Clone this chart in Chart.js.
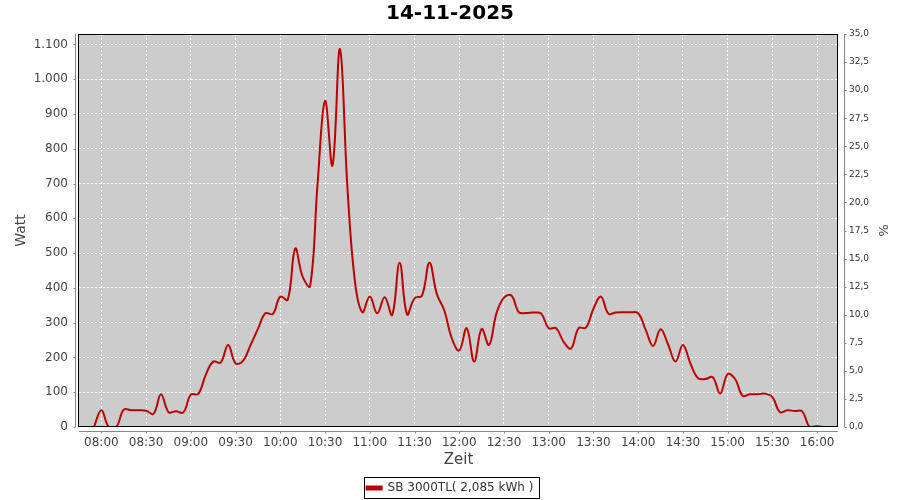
<!DOCTYPE html>
<html>
<head>
<meta charset="utf-8">
<script src="https://cdn.jsdelivr.net/npm/chart.js@4.4.1/dist/chart.umd.min.js"></script>
<style>
  html, body { margin: 0; padding: 0; background: #fff; }
</style>
</head>
<body>
<canvas id="pvChart" width="900" height="500"></canvas>
<script>
const chartTitle = '14-11-2025';
const seriesLabel = 'SB 3000TL( 2,085 kWh )';

// 5-Minuten-Werte (Watt)
const times = [
  '07:55', '08:00', '08:05', '08:10', '08:15', '08:20', '08:25', '08:30', '08:35', '08:40', '08:45', '08:50', '08:55',
  '09:00', '09:05', '09:10', '09:15', '09:20', '09:25', '09:30', '09:35', '09:40', '09:45', '09:50', '09:55',
  '10:00', '10:05', '10:10', '10:15', '10:20', '10:25', '10:30', '10:35', '10:40', '10:45', '10:50', '10:55',
  '11:00', '11:05', '11:10', '11:15', '11:20', '11:25', '11:30', '11:35', '11:40', '11:45', '11:50', '11:55',
  '12:00', '12:05', '12:10', '12:15', '12:20', '12:25', '12:30', '12:35', '12:40', '12:45', '12:50', '12:55',
  '13:00', '13:05', '13:10', '13:15', '13:20', '13:25', '13:30', '13:35', '13:40', '13:45', '13:50', '13:55',
  '14:00', '14:05', '14:10', '14:15', '14:20', '14:25', '14:30', '14:35', '14:40', '14:45', '14:50', '14:55',
  '15:00', '15:05', '15:10', '15:15', '15:20', '15:25', '15:30', '15:35', '15:40', '15:45', '15:50', '15:55',
  '16:00', '16:05'
];
const watts = [
  0, 48, 0, 0, 50, 48, 48, 47, 38, 94, 43, 45, 42,
  93, 95, 150, 188, 185, 236, 183, 190, 235, 282, 327, 325,
  375, 366, 513, 432, 405, 700, 938, 752, 1087, 690, 420, 330,
  375, 327, 373, 322, 472, 324, 370, 378, 472, 382, 335, 255,
  220, 284, 188, 282, 236, 328, 372, 378, 330, 328, 329, 326,
  284, 284, 245, 226, 284, 286, 340, 375, 326, 329, 330, 330,
  327, 280, 233, 281, 238, 188, 236, 183, 141, 138, 143, 96,
  152, 138, 90, 94, 94, 96, 86, 43, 48, 46, 45, 0,
  2, 0
];

const timeTicks = ['08:00', '08:30', '09:00', '09:30', '10:00', '10:30', '11:00', '11:30', '12:00',
  '12:30', '13:00', '13:30', '14:00', '14:30', '15:00', '15:30', '16:00'];
const wattTicks = [0, 100, 200, 300, 400, 500, 600, 700, 800, 900, 1000, 1100];
const percentTicks = [0, 2.5, 5, 7.5, 10, 12.5, 15, 17.5, 20, 22.5, 25, 27.5, 30, 32.5, 35];

function toMinutes(hhmm) {
  const [h, m] = hhmm.split(':').map(Number);
  return h * 60 + m;
}
function toHHMM(min) {
  const h = Math.floor(min / 60), m = Math.round(min % 60);
  return String(h).padStart(2, '0') + ':' + String(m).padStart(2, '0');
}
// deutsche Zahlenformate
function formatWatt(v) {
  return String(v).replace(/\B(?=(\d{3})+(?!\d))/g, '.');
}
function formatPercent(v) {
  return v.toFixed(1).replace('.', ',');
}

Chart.defaults.font.family = '"DejaVu Sans", sans-serif';
Chart.defaults.color = '#444';

// Hintergrund, Rahmen, Achsenlinien und Legendenrahmen
const framePlugin = {
  id: 'frame',
  afterLayout(chart) {
    // Legende etwas tiefer setzen
    chart.legend.top += 4;
    chart.legend.bottom += 4;
  },
  beforeDraw(chart) {
    const { ctx, chartArea: a } = chart;
    ctx.save();
    ctx.fillStyle = '#fff';
    ctx.fillRect(0, 0, chart.width, chart.height);
    ctx.fillStyle = '#cccccc';
    ctx.fillRect(a.left, a.top, a.right - a.left, a.bottom - a.top);
    ctx.restore();
  },
  afterDraw(chart) {
    const { ctx, chartArea: a, scales } = chart;
    ctx.save();
    ctx.lineWidth = 1;
    ctx.strokeStyle = '#000';
    ctx.strokeRect(a.left - 0.5, a.top + 0.5, a.right - a.left, a.bottom - a.top - 1);

    ctx.strokeStyle = '#888';
    ctx.beginPath();
    const lx = a.left - 3.5;
    ctx.moveTo(lx, a.top); ctx.lineTo(lx, a.bottom);
    scales.y.ticks.forEach(t => {
      const py = Math.round(scales.y.getPixelForValue(t.value)) + 0.5;
      ctx.moveTo(lx - 2, py); ctx.lineTo(lx, py);
    });
    const rx = a.right + 6.5;
    ctx.moveTo(rx, a.top); ctx.lineTo(rx, a.bottom);
    scales.y1.ticks.forEach(t => {
      const py = Math.round(scales.y1.getPixelForValue(t.value)) + 0.5;
      ctx.moveTo(rx, py); ctx.lineTo(rx + 2, py);
    });
    const by = a.bottom + 4.5;
    ctx.moveTo(a.left, by); ctx.lineTo(a.right, by);
    scales.x.ticks.forEach(t => {
      const px = Math.round(scales.x.getPixelForValue(t.value)) + 0.5;
      ctx.moveTo(px, by); ctx.lineTo(px, by + 2);
    });
    ctx.stroke();

    const box = chart.legend.legendHitBoxes[0];
    if (box) {
      ctx.strokeStyle = '#000';
      ctx.strokeRect(Math.round(box.left) - 2.5, Math.round(box.top) - 4.5,
        Math.round(box.width) + 8, Math.round(box.height) + 9);
    }
    ctx.restore();
  }
};

const chartElement = document.getElementById('pvChart');
const pvChart = new Chart(chartElement, {
  type: 'line',
  data: {
    datasets: [
      {
        label: seriesLabel,
        borderColor: '#bb0000',
        backgroundColor: '#bb0000',
        borderWidth: 2,
        pointRadius: 0,
        fill: false,
        tension: 0.4,
        data: times.map((t, i) => ({ x: toMinutes(t), y: watts[i] }))
      }
    ]
  },
  options: {
    responsive: false,
    animation: false,
    layout: { padding: 0 },
    scales: {
      x: {
        type: 'linear',
        min: 465,
        max: 974,
        afterBuildTicks: scale => {
          scale.ticks = timeTicks.map(t => ({ value: toMinutes(t) }));
        },
        afterFit: scale => { scale.height = 42; },
        ticks: {
          autoSkip: false,
          maxRotation: 0,
          padding: 9,
          color: '#444',
          font: { size: 12 },
          callback: v => toHHMM(v)
        },
        grid: { color: '#ffffff', lineWidth: 1, drawTicks: false },
        border: { display: false, dash: [2, 2] },
        title: {
          display: true,
          text: 'Zeit',
          color: '#444',
          font: { size: 15 },
          padding: { top: 0, bottom: 0 }
        }
      },
      y: {
        position: 'left',
        min: 0,
        max: 1130,
        afterBuildTicks: scale => {
          scale.ticks = wattTicks.map(v => ({ value: v }));
        },
        afterFit: scale => { scale.width = 79; },
        ticks: {
          padding: 11,
          color: '#444',
          font: { size: 12 },
          callback: v => formatWatt(v)
        },
        grid: { color: '#ffffff', lineWidth: 1, drawTicks: false },
        border: { display: false, dash: [2, 2] },
        title: {
          display: true,
          text: 'Watt',
          color: '#444',
          font: { size: 14 },
          padding: { top: 13, bottom: 0 }
        }
      },
      y1: {
        position: 'right',
        min: 0,
        max: 35,
        afterBuildTicks: scale => {
          scale.ticks = percentTicks.map(v => ({ value: v }));
        },
        afterFit: scale => { scale.width = 62; },
        ticks: {
          padding: 11,
          color: '#333',
          font: { size: 9 },
          callback: v => formatPercent(v)
        },
        grid: { display: false, drawTicks: false },
        border: { display: false },
        title: {
          display: true,
          text: '%',
          color: '#444',
          font: { size: 13 },
          padding: { top: 10, bottom: 0 }
        }
      }
    },
    plugins: {
      title: {
        display: true,
        text: chartTitle,
        color: '#000',
        font: { size: 20, weight: 'bold' },
        padding: { top: 2, bottom: 8 }
      },
      legend: {
        display: true,
        position: 'bottom',
        labels: {
          color: '#333',
          font: { size: 12 },
          boxWidth: 15,
          boxHeight: 3,
          padding: 9
        }
      },
      tooltip: { enabled: false }
    }
  },
  plugins: [framePlugin]
});
</script>
</body>
</html>
